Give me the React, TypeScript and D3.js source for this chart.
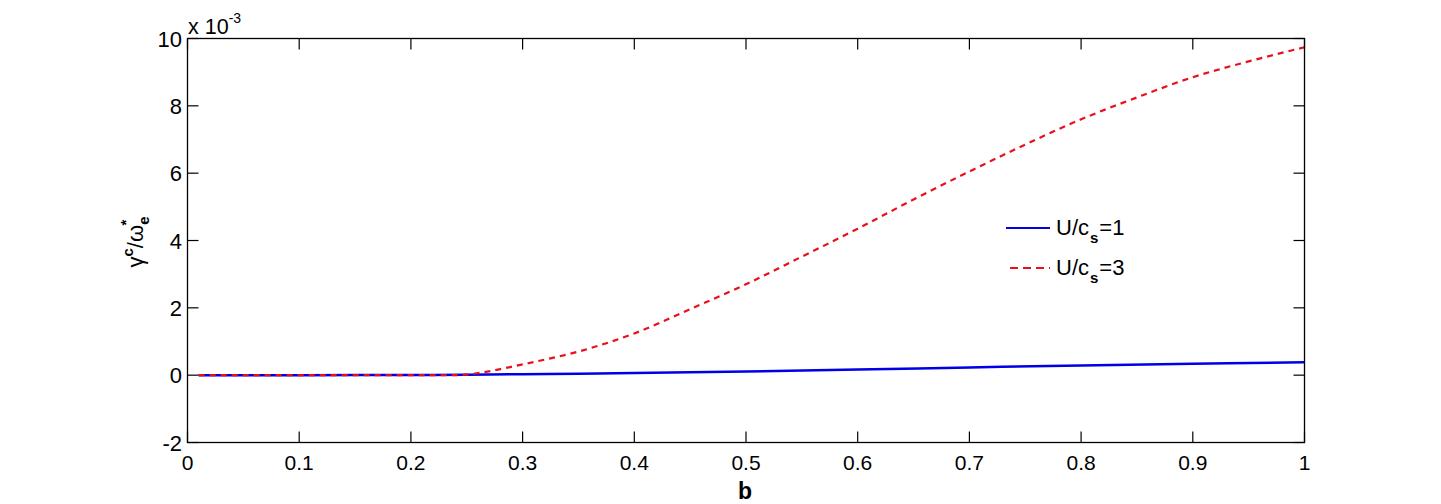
import React from "react";
import * as d3 from "d3";

const xTicks = [0, 0.1, 0.2, 0.3, 0.4, 0.5, 0.6, 0.7, 0.8, 0.9, 1];
const xTickLabels = ["0", "0.1", "0.2", "0.3", "0.4", "0.5", "0.6", "0.7", "0.8", "0.9", "1"];
const yTicks = [-2, 0, 2, 4, 6, 8, 10];
const yTickLabels = ["-2", "0", "2", "4", "6", "8", "10"];

// values in units of 1e-3
const blueB = [0.01, 0.1, 0.2, 0.25, 0.3, 0.35, 0.4, 0.5, 0.6, 0.7, 0.8, 0.9, 1.0];
const blueV = [0, 0, 0.005, 0.015, 0.03, 0.045, 0.065, 0.11, 0.165, 0.23, 0.29, 0.338, 0.38];

const redB = [0.01, 0.05, 0.1, 0.15, 0.2, 0.24, 0.26, 0.28, 0.3, 0.325, 0.35, 0.375, 0.4, 0.45, 0.5, 0.55, 0.6, 0.65, 0.7, 0.75, 0.8, 0.85, 0.9, 0.95, 1.0];
const redV = [0, 0, 0, 0, 0, 0, 0.06, 0.18, 0.32, 0.5, 0.7, 0.95, 1.24, 1.96, 2.7, 3.52, 4.35, 5.22, 6.05, 6.85, 7.6, 8.25, 8.85, 9.32, 9.74];

const W = 1441;
const H = 504;
const L = 187.5, R = 1304.5, T = 38.5, B = 442.5;
const FONT = "'Liberation Sans', Arial, Helvetica, sans-serif";
const BLUE = "#0000e6";
const RED = "#e8101c";

export default function App() {
  const x = d3.scaleLinear().domain([0, 1]).range([L, R]);
  const y = d3.scaleLinear().domain([-2, 10]).range([B, T]);
  const line = d3.line<[number, number]>().x((d) => x(d[0])).y((d) => y(d[1])).curve(d3.curveMonotoneX);
  const blueData = blueB.map((b, i) => [b, blueV[i]] as [number, number]);
  const redData = redB.map((b, i) => [b, redV[i]] as [number, number]);
  const tl = 11;

  return (
    <div style={{ position: "absolute", left: 0, top: 0 }}>
      <svg width={W} height={H} style={{ display: "block", background: "#fff" }} fontFamily={FONT}>
        <rect x={0} y={0} width={W} height={H} fill="#fff" />
        <path d={line(blueData) || ""} fill="none" stroke={BLUE} strokeWidth={2.5} />
        <path d={line(redData) || ""} fill="none" stroke={RED} strokeWidth={2.2} strokeDasharray="6,5" />
        {/* axes box */}
        <rect x={L} y={T} width={R - L} height={B - T} fill="none" stroke="#000" strokeWidth={1.3} />
        {xTicks.map((t, i) => (
          <g key={"xt" + i}>
            <line x1={x(t)} x2={x(t)} y1={B} y2={B - tl} stroke="#000" strokeWidth={1.2} />
            <line x1={x(t)} x2={x(t)} y1={T} y2={T + tl} stroke="#000" strokeWidth={1.2} />
            <text x={x(t)} y={469.5} fontSize={21} textAnchor="middle" fill="#000">{xTickLabels[i]}</text>
          </g>
        ))}
        {yTicks.map((t, i) => (
          <g key={"yt" + i}>
            <line x1={L} x2={L + tl} y1={y(t)} y2={y(t)} stroke="#000" strokeWidth={1.2} />
            <line x1={R} x2={R - tl} y1={y(t)} y2={y(t)} stroke="#000" strokeWidth={1.2} />
            <text x={182} y={y(t) + 8} fontSize={22} textAnchor="end" fill="#000">{yTickLabels[i]}</text>
          </g>
        ))}
        {/* exponent */}
        <text x={188} y={34} fontSize={21.5} fill="#000">
          x 10<tspan fontSize={14} dy={-11}>-3</tspan>
        </text>
        {/* x label */}
        <text x={745} y={499} fontSize={23} textAnchor="middle" fill="#000" fontWeight="bold">b</text>
        {/* y label */}
        <text transform="translate(143,242) rotate(-90)" fontSize={22} textAnchor="middle" fill="#000">
          γ<tspan fontSize={15} dy={-10} fontWeight="bold">c</tspan>
          <tspan dy={10}>/ω</tspan>
          <tspan fontSize={15} dy={6} fontWeight="bold">e</tspan>
          <tspan fontSize={15} dx={-9} dy={-18} fontWeight="bold">*</tspan>
        </text>
        {/* legend */}
        <line x1={1006} x2={1050} y1={228} y2={228} stroke={BLUE} strokeWidth={2} />
        <text x={1056} y={235} fontSize={22} fill="#000">
          U/c<tspan fontSize={15} dx={1} dy={8} fontWeight="bold">s</tspan><tspan dx={1} dy={-8}>=1</tspan>
        </text>
        <line x1={1010} x2={1050} y1={268} y2={268} stroke={RED} strokeWidth={2} strokeDasharray="8,5" />
        <text x={1056} y={275} fontSize={22} fill="#000">
          U/c<tspan fontSize={15} dx={1} dy={8} fontWeight="bold">s</tspan><tspan dx={1} dy={-8}>=3</tspan>
        </text>
      </svg>
    </div>
  );
}
